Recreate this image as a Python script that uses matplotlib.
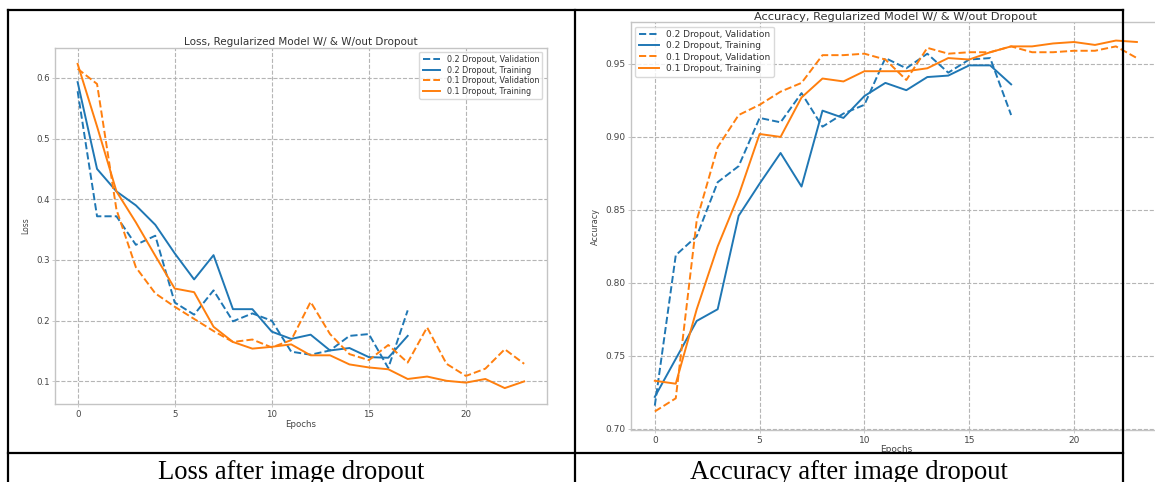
import matplotlib
matplotlib.use("Agg")
import matplotlib.pyplot as plt
from matplotlib.lines import Line2D

# epochs
epochs_02 = list(range(18))
epochs_01 = list(range(24))

# loss values
loss_val_02 = [0.578, 0.372, 0.372, 0.325, 0.340, 0.230, 0.210, 0.250, 0.199, 0.212,
               0.200, 0.149, 0.144, 0.151, 0.175, 0.178, 0.122, 0.217]
loss_tr_02 = [0.593, 0.450, 0.413, 0.390, 0.358, 0.311, 0.268, 0.308, 0.219, 0.219,
              0.182, 0.170, 0.177, 0.151, 0.155, 0.140, 0.139, 0.175]
loss_val_01 = [0.615, 0.590, 0.383, 0.288, 0.245, 0.223, 0.203, 0.183, 0.165, 0.169,
               0.156, 0.168, 0.231, 0.178, 0.145, 0.135, 0.160, 0.131, 0.189, 0.129,
               0.109, 0.121, 0.153, 0.129]
loss_tr_01 = [0.623, 0.520, 0.413, 0.362, 0.307, 0.253, 0.247, 0.190, 0.165, 0.154,
              0.157, 0.161, 0.143, 0.143, 0.128, 0.123, 0.120, 0.104, 0.108, 0.101,
              0.098, 0.104, 0.089, 0.100]

# accuracy values
acc_val_02 = [0.716, 0.819, 0.832, 0.869, 0.880, 0.913, 0.910, 0.930, 0.907, 0.916,
              0.922, 0.954, 0.947, 0.957, 0.944, 0.953, 0.954, 0.915]
acc_tr_02 = [0.722, 0.748, 0.774, 0.782, 0.846, 0.868, 0.889, 0.866, 0.918, 0.913,
             0.928, 0.937, 0.932, 0.941, 0.942, 0.949, 0.949, 0.936]
acc_val_01 = [0.712, 0.721, 0.843, 0.893, 0.915, 0.922, 0.931, 0.937, 0.956, 0.956,
              0.957, 0.953, 0.939, 0.961, 0.957, 0.958, 0.958, 0.962, 0.958, 0.958,
              0.959, 0.959, 0.962, 0.954]
acc_tr_01 = [0.733, 0.731, 0.782, 0.825, 0.860, 0.902, 0.900, 0.927, 0.940, 0.938,
             0.945, 0.945, 0.945, 0.947, 0.954, 0.953, 0.958, 0.962, 0.962, 0.964,
             0.965, 0.963, 0.966, 0.965]

labels = ["0.2 Dropout, Validation", "0.2 Dropout, Training",
          "0.1 Dropout, Validation", "0.1 Dropout, Training"]
captions = ["Loss after image dropout", "Accuracy after image dropout"]

W, H = 1155, 482
fig = plt.figure(figsize=(W / 100, H / 100), dpi=100)
fig.patch.set_facecolor("white")


def px_axes(x0, y0, x1, y1):
    return fig.add_axes([x0 / W, 1 - y1 / H, (x1 - x0) / W, (y1 - y0) / H])


def style(ax, fs):
    ax.grid(True, linestyle="--", color="#b5b5b5", linewidth=0.8)
    for s in ax.spines.values():
        s.set_color("#c4c4c4")
        s.set_linewidth(1.0)
    ax.tick_params(labelsize=fs, colors="#c4c4c4", labelcolor="#444444",
                   length=2.5, width=0.6, pad=1.5)


lw = 1.4
blue, orange = "#1f77b4", "#ff7f0e"

ax1 = px_axes(55.3, 47.7, 546.5, 404.3)
ax1.plot(epochs_02, loss_val_02, "--", color=blue, lw=lw, label=labels[0])
ax1.plot(epochs_02, loss_tr_02, "-", color=blue, lw=lw, label=labels[1])
ax1.plot(epochs_01, loss_val_01, "--", color=orange, lw=lw, label=labels[2])
ax1.plot(epochs_01, loss_tr_01, "-", color=orange, lw=lw, label=labels[3])
ax1.set_yticks([0.1, 0.2, 0.3, 0.4, 0.5, 0.6])
ax1.set_xticks([0, 5, 10, 15, 20])
style(ax1, 6.2)
ax1.set_title("Loss, Regularized Model W/ & W/out Dropout", fontsize=7.5,
              color="#333333", pad=2)
ax1.set_xlabel("Epochs", fontsize=6.2, color="#444444", labelpad=0.5)
ax1.set_ylabel("Loss", fontsize=5.5, color="#444444", labelpad=4)
ax1.legend(loc="upper right", fontsize=5.8, labelcolor="#333333",
           edgecolor="#d0d0d0", fancybox=True, handlelength=2.2,
           borderpad=0.4, labelspacing=0.2)

ax2 = px_axes(630.7, 22, 1161, 430)
ax2.plot(epochs_02, acc_val_02, "--", color=blue, lw=lw, label=labels[0])
ax2.plot(epochs_02, acc_tr_02, "-", color=blue, lw=lw, label=labels[1])
ax2.plot(epochs_01, acc_val_01, "--", color=orange, lw=lw, label=labels[2])
ax2.plot(epochs_01, acc_tr_01, "-", color=orange, lw=lw, label=labels[3])
ax2.set_yticks([0.70, 0.75, 0.80, 0.85, 0.90, 0.95])
ax2.set_xticks([0, 5, 10, 15, 20])
style(ax2, 6.5)
ax2.set_title("Accuracy, Regularized Model W/ & W/out Dropout", fontsize=8.2,
              color="#333333", pad=1.5)
ax2.set_xlabel("Epochs", fontsize=6.5, color="#444444", labelpad=0)
ax2.set_ylabel("Accuracy", fontsize=5.8, color="#444444", labelpad=4)
ax2.legend(loc="upper left", fontsize=6.5, labelcolor="#333333",
           edgecolor="#d0d0d0", fancybox=True, handlelength=2.2,
           borderpad=0.4, labelspacing=0.25)

# table borders
bx0, bx1, bx2 = 8, 575, 1123
by0, by1 = 9.5, 453
border = dict(color="black", linewidth=1.6, zorder=10)
for xs, ys in [([bx0, bx2], [by0, by0]), ([bx0, bx2], [by1, by1]),
               ([bx0, bx0], [by0, H + 5]), ([bx1, bx1], [by0, H + 5]),
               ([bx2, bx2], [by0, H + 5])]:
    fig.add_artist(Line2D([x / W for x in xs], [1 - y / H for y in ys],
                          transform=fig.transFigure, **border))

fig.text((bx0 + bx1) / 2 / W, 1 - 479 / H, captions[0], ha="center",
         va="baseline", fontsize=19.2, family="Liberation Serif", color="black")
fig.text((bx1 + bx2) / 2 / W, 1 - 479 / H, captions[1], ha="center",
         va="baseline", fontsize=19.2, family="Liberation Serif", color="black")

fig.savefig("out.png", dpi=100, facecolor="white")
